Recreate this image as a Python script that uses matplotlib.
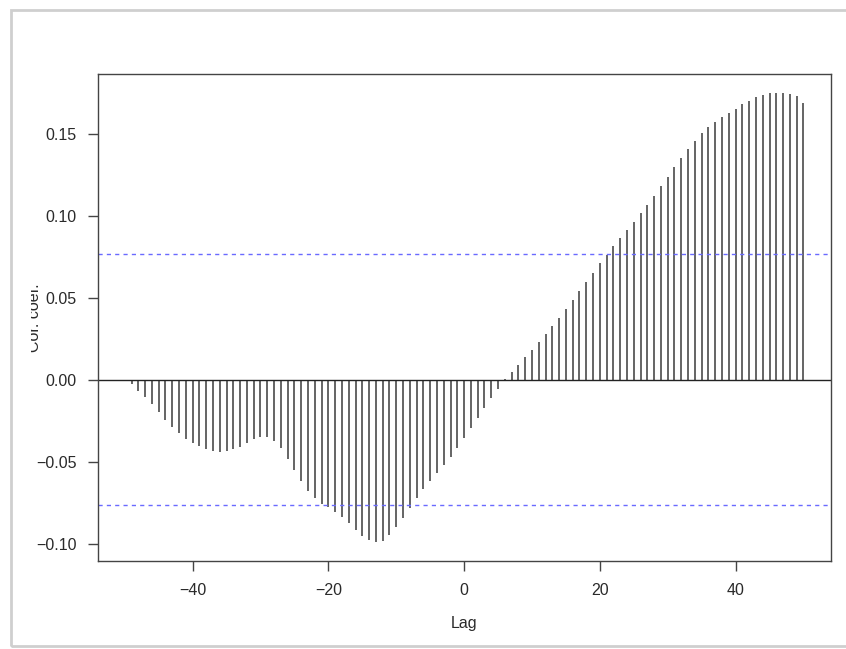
import matplotlib
matplotlib.use("Agg")
import matplotlib.pyplot as plt
from matplotlib.patches import Rectangle
from matplotlib.transforms import Bbox, TransformedBbox, IdentityTransform

lags = list(range(-50, 51))
ccf_values = [
    -0.0005, -0.0028, -0.0067, -0.0108, -0.0150, -0.0197, -0.0246, -0.0287, -0.0323, -0.0360,  # -50..-41
    -0.0384, -0.0407, -0.0425, -0.0435, -0.0439, -0.0433, -0.0425, -0.0413, -0.0384, -0.0364,  # -40..-31
    -0.0350, -0.0352, -0.0372, -0.0417, -0.0482, -0.0551, -0.0620, -0.0679, -0.0724, -0.0758,  # -30..-21
    -0.0778, -0.0805, -0.0835, -0.0876, -0.0915, -0.0953, -0.0978, -0.0992, -0.0984, -0.0947,  # -20..-11
    -0.0900, -0.0843, -0.0780, -0.0724, -0.0669, -0.0618, -0.0571, -0.0522, -0.0472, -0.0419,  # -10..-1
    -0.0354,                                                                                 # 0
    -0.0297, -0.0236, -0.0175, -0.0110, -0.0057, 0.0005, 0.0047, 0.0091, 0.0138, 0.0183,      # 1..10
    0.0228, 0.0276, 0.0325, 0.0376, 0.0431, 0.0486, 0.0541, 0.0598, 0.0652, 0.0709,          # 11..20
    0.0760, 0.0813, 0.0864, 0.0913, 0.0963, 0.1016, 0.1067, 0.1122, 0.1179, 0.1238,          # 21..30
    0.1297, 0.1354, 0.1407, 0.1457, 0.1504, 0.1541, 0.1575, 0.1604, 0.1630, 0.1654,          # 31..40
    0.1679, 0.1703, 0.1726, 0.1738, 0.1748, 0.1752, 0.1748, 0.1740, 0.1732, 0.1689,          # 41..50
]
conf_limit = 0.0767
x_ticks = [-40, -20, 0, 20, 40]
y_ticks = [-0.10, -0.05, 0.00, 0.05, 0.10, 0.15]
y_tick_labels = ["\u22120.10", "\u22120.05", "0.00", "0.05", "0.10", "0.15"]
x_tick_labels = ["\u221240", "\u221220", "0", "20", "40"]

plt.rcParams['font.family'] = ['Liberation Sans', 'DejaVu Sans']

W, H = 846, 649
fig = plt.figure(figsize=(W / 100, H / 100), dpi=100)
fig.patch.set_facecolor('white')

# screenshot page frame
frame = Rectangle((11 / W, (H - 646) / H), 1.0, (646 - 10) / H, transform=fig.transFigure,
                  fill=False, edgecolor='#cfcfcf', linewidth=2.0, zorder=0)
fig.patches.append(frame)

ax = fig.add_axes([97.6 / W, (H - 560.5) / H, (830.6 - 97.6) / W, (560.5 - 73.5) / H])

ax.vlines(lags, 0, ccf_values, colors='#4a4a4a', linewidth=1.2)
ax.axhline(0, color='#222222', linewidth=1.0)
ax.axhline(conf_limit, color='#6a6aff', linewidth=1.0, linestyle=(0, (3, 3)))
ax.axhline(-conf_limit, color='#6a6aff', linewidth=1.0, linestyle=(0, (3, 3)))

ax.set_xlim(-54, 54)
ax.set_ylim(-0.1103, 0.1868)
ax.set_xticks(x_ticks)
ax.set_xticklabels(x_tick_labels)
ax.set_yticks(y_ticks)
ax.set_yticklabels(y_tick_labels)

for s in ax.spines.values():
    s.set_color('#444444')
    s.set_linewidth(1.0)
ax.tick_params(axis='both', direction='out', length=7, width=1.0, color='#444444',
               labelsize=11.5, labelcolor='#2a2a2a')
ax.tick_params(axis='x', pad=9)
ax.tick_params(axis='y', pad=8)

ax.set_xlabel('Lag', fontsize=11.5, color='#2a2a2a', labelpad=13)

ylab = fig.text(34 / W, (H - 318) / H, 'Cor. coef.', rotation=90, fontsize=11.5,
                color='#2a2a2a', ha='center', va='center')
clip = TransformedBbox(Bbox.from_extents(31, 0, W, H), IdentityTransform())
ylab.set_clip_box(clip)
ylab.set_clip_on(True)

fig.savefig('out.png', dpi=100)
